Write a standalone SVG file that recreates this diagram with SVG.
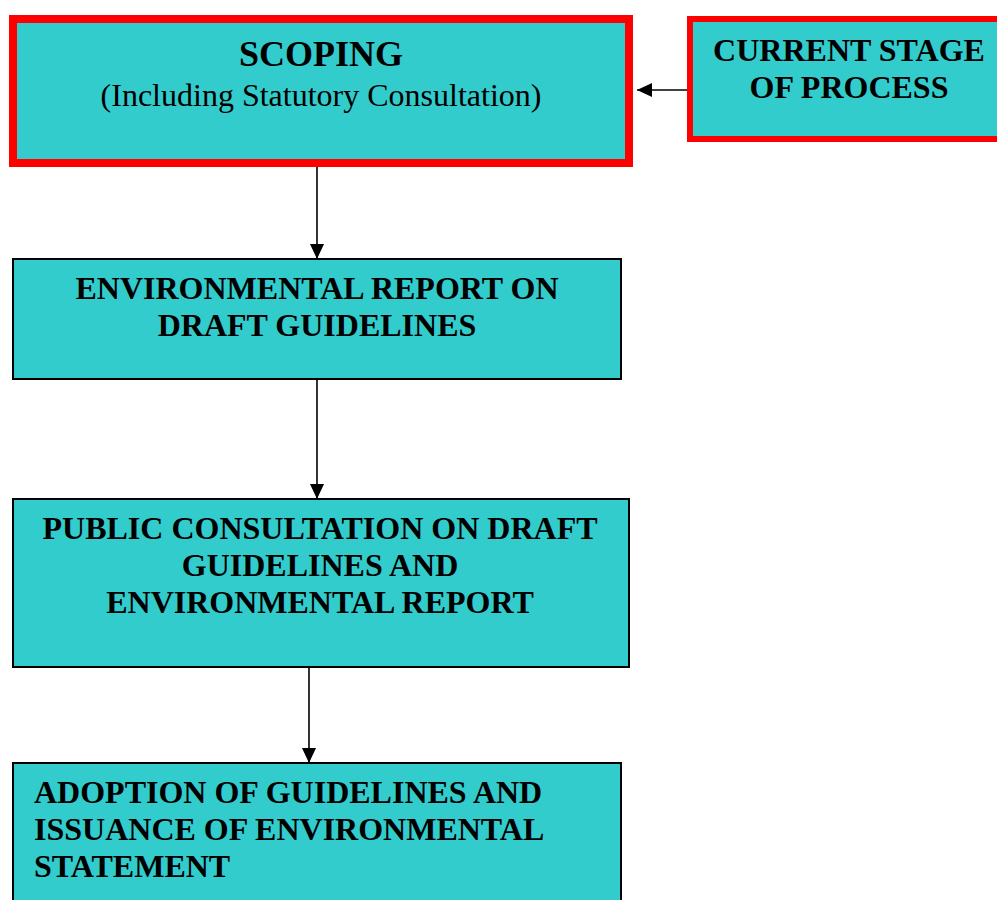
<svg xmlns="http://www.w3.org/2000/svg" width="997" height="900" viewBox="0 0 997 900">
<style>
.box{fill:#33CCCC;stroke:#000;stroke-width:2}
.hl{fill:#33CCCC;stroke:#FF0000}
.t{font-family:"Liberation Serif","Times New Roman",serif;font-size:32px;fill:#000}
.b{font-weight:bold}
.c{text-anchor:middle}
.con{stroke:#000;stroke-width:1.6;fill:none;marker-end:url(#ah)}
</style>
<defs>
<marker id="ah" markerUnits="userSpaceOnUse" markerWidth="16" markerHeight="14" refX="15" refY="7" orient="auto">
<path d="M0,0 L15,7 L0,14 z" fill="#000"/>
</marker>
</defs>
<rect width="997" height="900" fill="#fff"/>
<g id="connectors">
<line class="con" x1="317" y1="167" x2="317" y2="259"/>
<line class="con" x1="317" y1="379" x2="317" y2="499"/>
<line class="con" x1="309" y1="667" x2="309" y2="763"/>
<line class="con" x1="687" y1="90" x2="637" y2="90"/>
</g>
<g id="scoping">
<rect class="hl" x="13" y="19" width="616" height="144" stroke-width="8"/>
<text class="t b c" x="321" y="66" style="font-size:36px">SCOPING</text>
<text class="t c" x="321" y="106">(Including Statutory Consultation)</text>
</g>
<g id="current-stage">
<rect class="hl" x="690" y="19" width="330" height="120" stroke-width="6"/>
<text class="t b c" x="849" y="61">CURRENT STAGE</text>
<text class="t b c" x="849" y="98">OF PROCESS</text>
</g>
<g id="environmental-report">
<rect class="box" x="13" y="259" width="608" height="120"/>
<text class="t b c" x="317" y="299">ENVIRONMENTAL REPORT ON</text>
<text class="t b c" x="317" y="336">DRAFT GUIDELINES</text>
</g>
<g id="public-consultation">
<rect class="box" x="13" y="499" width="616" height="168"/>
<text class="t b c" x="320" y="539">PUBLIC CONSULTATION ON DRAFT</text>
<text class="t b c" x="320" y="576">GUIDELINES AND</text>
<text class="t b c" x="320" y="613">ENVIRONMENTAL REPORT</text>
</g>
<g id="adoption">
<rect class="box" x="13" y="763" width="608" height="160"/>
<text class="t b" x="34" y="803">ADOPTION OF GUIDELINES AND</text>
<text class="t b" x="34" y="840">ISSUANCE OF ENVIRONMENTAL</text>
<text class="t b" x="34" y="877">STATEMENT</text>
</g>
</svg>
